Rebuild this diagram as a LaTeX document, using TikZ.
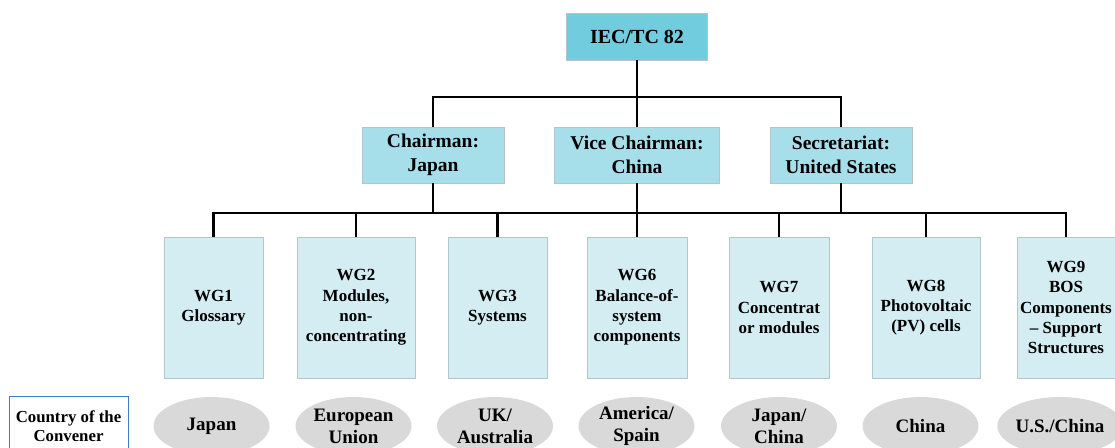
\documentclass[tikz,border=0pt]{standalone}
\usepackage{fontspec}
\setmainfont{Liberation Serif}
\usetikzlibrary{shapes.geometric}
\definecolor{topc}{HTML}{71CDDD}
\definecolor{midc}{HTML}{A6DEE9}
\definecolor{wgc}{HTML}{D4EDF2}
\definecolor{ellc}{HTML}{D9D9D9}
\definecolor{edgec}{HTML}{B4C4CA}
\definecolor{convc}{HTML}{3D7CC9}
\tikzset{
  conn/.style={line width=2.1pt, black},
  topbox/.style={rectangle, fill=topc, draw=edgec, line width=0.5pt, minimum width=141pt, minimum height=47pt, inner sep=0pt, align=center, font=\fontsize{20}{24}\selectfont\bfseries},
  midbox/.style={rectangle, fill=midc, draw=edgec, line width=0.5pt, minimum height=56pt, inner sep=0pt, align=center, font=\fontsize{19.5}{23.5}\selectfont\bfseries},
  wgbox/.style={rectangle, fill=wgc, draw=edgec, line width=0.5pt, minimum height=141pt, inner sep=0pt, align=center, font=\fontsize{17}{20.3}\selectfont\bfseries},
  country/.style={ellipse, fill=ellc, draw=none, minimum width=116pt, minimum height=58pt, inner sep=0pt, align=center, font=\fontsize{19}{22}\selectfont\bfseries},
  convbox/.style={rectangle, fill=white, draw=convc, line width=0.8pt, minimum width=119pt, minimum height=60pt, inner sep=0pt, align=center, font=\fontsize{16.8}{18.5}\selectfont\bfseries}
}
\begin{document}
\begin{tikzpicture}[x=1pt,y=-1pt]
\useasboundingbox (0,0) rectangle (1115,447);
\clip (0,0) rectangle (1115,447);
% top
\node[topbox] (top) at (637,36.5) {IEC/TC 82};
% second row
\node[midbox, minimum width=142pt] (chair) at (433,155) {Chairman:\\Japan};
\node[midbox, minimum width=165pt] (vice) at (637,155) {Vice Chairman:\\China};
\node[midbox, minimum width=142pt] (sec) at (841,155) {Secretariat:\\United States};
% WG row
\node[wgbox, minimum width=99pt] (wg1) at (213.5,307.5) {WG1\\Glossary};
\node[wgbox, minimum width=118pt] (wg2) at (356,307.5) {WG2\\Modules,\\non-\\concentrating};
\node[wgbox, minimum width=99pt] (wg3) at (497.5,307.5) {WG3\\Systems};
\node[wgbox, minimum width=100pt] (wg6) at (637,307.5) {WG6\\Balance-of-\\system\\components};
\node[wgbox, minimum width=100pt] (wg7) at (779,307.5) {WG7\\Concentrat\\or modules};
\node[wgbox, minimum width=108pt] (wg8) at (926,307.5) {WG8\\Photovoltaic\\(PV) cells};
\node[wgbox, minimum width=98pt] (wg9) at (1066,307.5) {WG9\\BOS\\Components\\– Support\\Structures};
% countries
\node[convbox] (conv) at (68.5,426) {Country of the\\Convener};
\node[country] (c1) at (211.5,426) {Japan};
\node[country] (c2) at (353.5,426) {European\\Union};
\node[country] (c3) at (495,426) {UK/\\Australia};
\node[country] (c6) at (636.5,426) {America/\\Spain};
\node[country] (c7) at (779,426) {Japan/\\China};
\node[country] (c8) at (920.5,426) {China};
\node[country, minimum width=112pt] (c9) at (1060,426) {U.S./China};
% connectors
\coordinate (j1) at (637,97);
\coordinate (j2) at (637,213);
\draw[conn] (top.south) -- (vice.north);
\draw[conn] (chair.north) -- (chair.north |- j1) -- (sec.north |- j1) -- (sec.north);
\draw[conn] (wg1.north) -- (wg1.north |- j2) -- (wg9.north |- j2) -- (wg9.north);
\foreach \n in {chair,vice,sec} {
  \draw[conn] (\n.south) -- (\n.south |- j2);
}
\foreach \n in {wg2,wg3,wg6,wg7,wg8} {
  \draw[conn] (\n.north) -- (\n.north |- j2);
}
\end{tikzpicture}
\end{document}
